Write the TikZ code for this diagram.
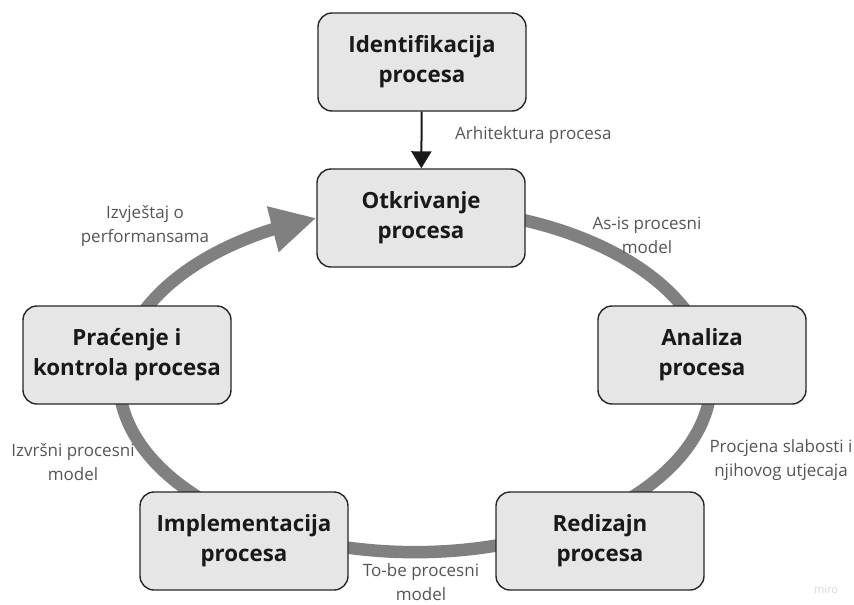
\documentclass[tikz,border=0pt]{standalone}
\usepackage{fontspec}
\setmainfont{Open Sans}
\usetikzlibrary{arrows.meta,bending,backgrounds}
\definecolor{boxfill}{HTML}{E6E6E6}
\definecolor{ringgray}{HTML}{808080}
\definecolor{labelgray}{HTML}{555555}
\tikzstyle{procbox}=[draw=black!85, fill=boxfill, line width=1.4pt, rounded corners=14pt, minimum width=208pt, minimum height=98pt, align=center, text=black!90, font=\bfseries\fontsize{22.3}{30}\selectfont]
\tikzstyle{edgelabel}=[inner sep=0pt, align=center, text=labelgray, font=\fontsize{17}{24}\selectfont]
\tikzstyle{cycleRing}=[line width=12.5pt, draw=ringgray]
\tikzstyle{flowArrow}=[line width=2pt, draw=black!90, -{Triangle[length=17pt,width=20pt]}]

\begin{document}
\begin{tikzpicture}[x=1pt, y=-1pt]
    \useasboundingbox (0, 0) rectangle (854, 605);

    % process boxes
    \node[procbox] (ident) at (422, 62) {Identifikacija\\procesa};
    \node[procbox] (otkr) at (421, 218) {Otkrivanje\\procesa};
    \node[procbox] (analiza) at (702, 355) {Analiza\\procesa};
    \node[procbox] (redizajn) at (600, 541) {Redizajn\\procesa};
    \node[procbox] (impl) at (244, 541) {Implementacija\\procesa};
    \node[procbox] (pracenje) at (127, 355) {Praćenje i\\kontrola procesa};

    % cycle
    \begin{scope}[on background layer]
        \draw[cycleRing, {Triangle[length=45pt,width=44pt]}-] (otkr.west) arc[start angle=-109.5, end angle=-440, x radius=296, y radius=172];
    \end{scope}
    \draw[flowArrow] (ident) -- (otkr);

    % labels
    \node[edgelabel, anchor=west] (l1) at (455, 135) {Arhitektura procesa};
    \node[edgelabel] (l2) at (647, 235) {As-is procesni\\model};
    \node[edgelabel] (l3) at (781, 460) {Procjena slabosti i\\njihovog utjecaja};
    \node[edgelabel] (l4) at (421, 582) {To-be procesni\\model};
    \node[edgelabel] (l5) at (73, 462) {Izvršni procesni\\model};
    \node[edgelabel] (l6) at (145, 226) {Izvještaj o\\performansama};
    \node[text=black!15, font=\fontsize{11}{13}\selectfont] (miro) at (826, 590) {miro};
\end{tikzpicture}
\end{document}
